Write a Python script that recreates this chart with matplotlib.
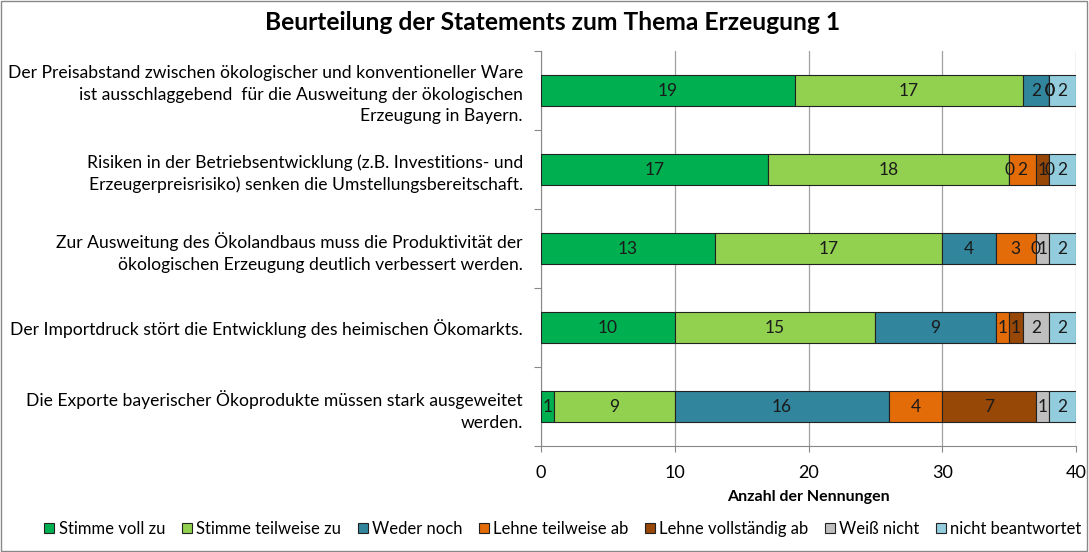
import matplotlib.pyplot as plt
import numpy as np

plt.rcParams['font.family'] = ['Lato', 'DejaVu Sans']

statements = [
    "Der Preisabstand zwischen ökologischer und konventioneller Ware\nist ausschlaggebend  für die Ausweitung der ökologischen\nErzeugung in Bayern.",
    "Risiken in der Betriebsentwicklung (z.B. Investitions- und\nErzeugerpreisrisiko) senken die Umstellungsbereitschaft.",
    "Zur Ausweitung des Ökolandbaus muss die Produktivität der\nökologischen Erzeugung deutlich verbessert werden.",
    "Der Importdruck stört die Entwicklung des heimischen Ökomarkts.",
    "Die Exporte bayerischer Ökoprodukte müssen stark ausgeweitet\nwerden.",
]
answers = ["Stimme voll zu", "Stimme teilweise zu", "Weder noch",
           "Lehne teilweise ab", "Lehne vollständig ab", "Weiß nicht",
           "nicht beantwortet"]
stimme_voll = [19, 17, 13, 10, 1]
stimme_teilweise = [17, 18, 17, 15, 9]
weder_noch = [2, 0, 4, 9, 16]
lehne_teilweise = [0, 2, 3, 1, 4]
lehne_vollstaendig = [0, 1, 0, 1, 7]
weiss_nicht = [0, 0, 1, 2, 1]
nicht_beantwortet = [2, 2, 2, 2, 2]
colors = ['#00B050', '#92D050', '#31859C', '#E36C09', '#974706', '#BFBFBF', '#93CDDD']

series = [stimme_voll, stimme_teilweise, weder_noch, lehne_teilweise,
          lehne_vollstaendig, weiss_nicht, nicht_beantwortet]

fig = plt.figure(figsize=(10.89, 5.52), dpi=100)
ax = fig.add_axes([541 / 1089, 1 - 446 / 552, 535 / 1089, 395 / 552])

y = np.arange(len(statements))
left = np.zeros(len(statements))
for name, vals, col in zip(answers, series, colors):
    vals = np.array(vals)
    bars = ax.barh(y, vals, left=left, height=0.38, color=col,
                   edgecolor='#222222', linewidth=0.8, label=name, zorder=3)
    for b, v in zip(bars, vals):
        ax.text(b.get_x() + b.get_width() / 2, b.get_y() + b.get_height() / 2,
                "%d" % v, ha='center', va='center', fontsize=12.5,
                color='#1a1a1a', zorder=4)
    left += vals

ax.set_xlim(0, 40)
ax.set_ylim(len(statements) - 0.5, -0.5)
ax.set_xticks([0, 10, 20, 30, 40])
ax.tick_params(axis='x', labelsize=13, length=4, color='#888888', pad=10)
ax.set_yticks(np.arange(-0.5, len(statements), 1))
ax.set_yticklabels([])
ax.tick_params(axis='y', length=5, color='#888888')
ax.set_yticks(y, minor=True)
ax.set_yticklabels(statements, minor=True, fontsize=12.6, linespacing=1.4)
ax.tick_params(axis='y', which='minor', length=0, pad=13)
ax.grid(axis='x', color='#A0A0A0', linewidth=0.9, zorder=0)
for s in ['top', 'right']:
    ax.spines[s].set_visible(False)
for s in ['left', 'bottom']:
    ax.spines[s].set_color('#888888')

ax.set_xlabel("Anzahl der Nennungen", fontsize=11.5, fontweight='bold', labelpad=6)
fig.suptitle("Beurteilung der Statements zum Thema Erzeugung 1", fontsize=17.7,
             fontweight='bold', x=0.507, y=0.98)

fig.legend(loc='lower center', bbox_to_anchor=(0.517, 0.0), ncol=7, frameon=False,
           fontsize=12, handlelength=0.6, handleheight=0.6, handletextpad=0.25,
           columnspacing=1.0)

fig.patches.append(plt.Rectangle((0.001, 0.001), 0.997, 0.997, transform=fig.transFigure,
                                 fill=False, edgecolor='#888888', linewidth=1))

fig.savefig("out.png", dpi=100)
